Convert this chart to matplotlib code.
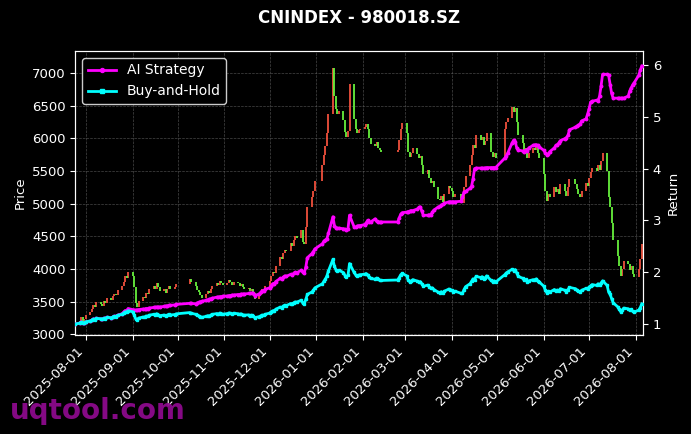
import matplotlib
matplotlib.use("Agg")
import matplotlib.pyplot as plt
import matplotlib.dates as mdates
import numpy as np
import pandas as pd

# ---------------- data ----------------
start_date = "2025-07-25"
end_date = "2026-08-05"
holidays = ["2025-10-01", "2025-10-02", "2025-10-03", "2025-10-06", "2025-10-07",
            "2025-10-08", "2026-01-01", "2026-01-02", "2026-02-16", "2026-02-17",
            "2026-02-18", "2026-02-19", "2026-02-20", "2026-02-23", "2026-04-06",
            "2026-05-01", "2026-05-04", "2026-05-05", "2026-06-19"]

close_jul25 = [3150, 3210, 3265, 3200, 3240]
close_aug25 = [3290, 3340, 3395, 3450, 3420, 3490, 3470, 3440, 3510, 3480, 3550,
               3530, 3590, 3620, 3600, 3680, 3740, 3810, 3890, 3860, 3960]
close_sep25 = [3900, 3720, 3480, 3420, 3510, 3580, 3560, 3640, 3620, 3690, 3740,
               3700, 3780, 3720, 3660, 3700, 3640, 3690, 3740, 3700, 3730, 3770]
close_oct25 = [3850, 3810, 3740, 3680, 3650, 3600, 3560, 3620, 3660, 3640, 3700,
               3740, 3790, 3760, 3820, 3780, 3750]
close_nov25 = [3790, 3830, 3800, 3760, 3810, 3780, 3740, 3770, 3720, 3690, 3710,
               3670, 3700, 3640, 3540, 3600, 3650, 3700, 3680, 3740]
close_dec25 = [3820, 3900, 3960, 3940, 4050, 4180, 4150, 4240, 4300, 4270, 4400,
               4360, 4450, 4500, 4480, 4600, 4420, 4380, 4650, 4950, 5100, 5200, 5350]
close_jan26 = [5600, 5750, 5880, 6080, 6380, 7080, 6650, 6450, 6380, 6420, 6280,
               6100, 6020, 6120, 6830, 6300, 6150, 6080, 6130, 6150]
close_feb26 = [6180, 6220, 6150, 6000, 5920, 5880, 5950, 5860, 5820, 5800, 5830,
               5980, 6150, 6230]
close_mar26 = [6080, 5800, 5720, 5780, 5850, 5760, 5700, 5730, 5600, 5450, 5520,
               5400, 5320, 5350, 5250, 5080, 5060, 5120, 5020, 5150, 5280, 5240]
close_apr26 = [5200, 5100, 5150, 5020, 5010, 5250, 5420, 5600, 5750, 5900, 5850,
               6050, 5980, 6030, 5900, 5960, 6080, 5800, 5720, 5780, 5700]
close_may26 = [6150, 6250, 6320, 6480, 6400, 6460, 6250, 6050, 5930, 5800, 5860,
               5700, 5780, 5850, 5820, 5900, 5780, 5700]
close_jun26 = [5450, 5200, 5050, 5150, 5100, 5250, 5180, 5220, 5150, 5300, 5200,
               5120, 5250, 5380, 5300, 5220, 5150, 5100, 5200, 5320, 5280]
close_jul26 = [5400, 5480, 5550, 5500, 5600, 5520, 5650, 5780, 5500, 5100, 4950,
               4700, 4450, 4200, 4050, 3900, 4000, 4120, 4080, 3980, 4050, 3920, 3880]
close_aug26 = [4000, 4150, 4380]

ai_jul25 = [1.00, 1.02, 1.04, 1.02, 1.03]
ai_aug25 = [1.04, 1.06, 1.08, 1.10, 1.09, 1.11, 1.10, 1.09, 1.11, 1.11, 1.13,
            1.12, 1.14, 1.15, 1.15, 1.17, 1.20, 1.23, 1.26, 1.25, 1.30]
ai_sep25 = [1.28, 1.27, 1.27, 1.27, 1.28, 1.29, 1.29, 1.30, 1.30, 1.31, 1.32,
            1.32, 1.33, 1.33, 1.33, 1.34, 1.35, 1.35, 1.36, 1.36, 1.37, 1.38]
ai_oct25 = [1.40, 1.40, 1.39, 1.41, 1.42, 1.43, 1.44, 1.46, 1.47, 1.48, 1.49,
            1.50, 1.52, 1.52, 1.53, 1.53, 1.54]
ai_nov25 = [1.54, 1.55, 1.55, 1.56, 1.56, 1.57, 1.57, 1.58, 1.58, 1.58, 1.59,
            1.59, 1.60, 1.59, 1.55, 1.58, 1.61, 1.64, 1.63, 1.67]
ai_dec25 = [1.70, 1.74, 1.78, 1.77, 1.82, 1.88, 1.87, 1.90, 1.93, 1.92, 1.96,
            1.95, 1.98, 2.00, 1.99, 2.04, 2.00, 1.99, 2.10, 2.28, 2.36, 2.40, 2.45]
ai_jan26 = [2.55, 2.60, 2.62, 2.65, 2.75, 3.07, 2.90, 2.86, 2.85, 2.85, 2.84,
            2.83, 2.82, 2.84, 3.10, 2.88, 2.87, 2.89, 2.90, 2.90]
ai_feb26 = [2.92, 2.95, 3.00, 2.97, 2.97, 3.03, 2.98, 2.97, 2.97, 2.97, 2.97,
            3.05, 3.12, 3.15]
ai_mar26 = [3.16, 3.17, 3.18, 3.19, 3.19, 3.22, 3.25, 3.26, 3.18, 3.10, 3.10,
            3.11, 3.10, 3.16, 3.20, 3.26, 3.27, 3.30, 3.31, 3.33, 3.36, 3.36]
ai_apr26 = [3.36, 3.36, 3.36, 3.37, 3.45, 3.55, 3.56, 3.62, 3.66, 3.80, 4.00,
            4.01, 4.01, 4.01, 4.01, 4.01, 4.02, 4.02, 4.02, 4.02, 4.02]
ai_may26 = [4.20, 4.24, 4.30, 4.50, 4.55, 4.52, 4.40, 4.36, 4.34, 4.33, 4.36,
            4.34, 4.40, 4.45, 4.46, 4.46, 4.45, 4.42]
ai_jun26 = [4.35, 4.30, 4.27, 4.29, 4.33, 4.40, 4.45, 4.46, 4.50, 4.54, 4.58,
            4.60, 4.64, 4.75, 4.80, 4.82, 4.84, 4.86, 4.92, 4.96, 5.05]
ai_jul26 = [5.15, 5.28, 5.30, 5.32, 5.31, 5.40, 5.60, 5.82, 5.82, 5.80, 5.62,
            5.45, 5.36, 5.36, 5.36, 5.36, 5.36, 5.36, 5.40, 5.50, 5.56, 5.62, 5.66]
ai_aug26 = [5.80, 5.90, 5.98]

title = "CNINDEX - 980018.SZ"
price_ticks = [3000, 3500, 4000, 4500, 5000, 5500, 6000, 6500, 7000]
return_ticks = [1, 2, 3, 4, 5, 6]
watermark = "uqtool.com"

# ---------------- assemble ----------------
close = np.array(close_jul25 + close_aug25 + close_sep25 + close_oct25 + close_nov25 +
                 close_dec25 + close_jan26 + close_feb26 + close_mar26 + close_apr26 +
                 close_may26 + close_jun26 + close_jul26 + close_aug26, dtype=float)
ai = np.array(ai_jul25 + ai_aug25 + ai_sep25 + ai_oct25 + ai_nov25 + ai_dec25 +
              ai_jan26 + ai_feb26 + ai_mar26 + ai_apr26 + ai_may26 + ai_jun26 +
              ai_jul26 + ai_aug26, dtype=float)
days = pd.bdate_range(start_date, end_date)
days = days[~days.isin(pd.to_datetime(holidays))]
n = min(len(days), len(close), len(ai))
days, close, ai = days[:n], close[:n], ai[:n]

open_ = np.concatenate([[close[0]], close[:-1]])
buy_hold = close / close[0]
up = close >= open_

BG = "black"
fig = plt.figure(figsize=(6.91, 4.34), dpi=100, facecolor=BG)
ax = fig.add_axes([0.109, 0.228, 0.8215, 0.6545], facecolor=BG)
x = mdates.date2num(days)

ax.vlines(x[up], open_[up], close[up], colors="#f0503c", linewidth=1.3, zorder=2)
ax.vlines(x[~up], open_[~up], close[~up], colors="#66f03c", linewidth=1.3, zorder=2)

ax.set_ylim(2990, 7340)
ax.set_yticks(price_ticks)
ax.set_xlim(x[0], x[-1] + 0.8)
ax.grid(True, linestyle="--", color="#666666", linewidth=0.5, alpha=0.7)
ax.set_axisbelow(True)
ax.set_ylabel("Price", color="white", fontsize=9.5)

ax.xaxis.set_major_locator(mdates.MonthLocator(bymonthday=1))
ax.xaxis.set_major_formatter(mdates.DateFormatter("%Y-%m-%d"))
for lbl in ax.get_xticklabels():
    lbl.set_rotation(45)
    lbl.set_ha("right")
ax.tick_params(axis="x", colors="white", labelsize=9.5)
ax.tick_params(axis="y", colors="white", labelsize=9.5)
for sp in ax.spines.values():
    sp.set_color("white")

ax2 = ax.twinx()
ax2.plot(x, ai, color="#ff00ff", linewidth=2, marker="o", markersize=1.8,
         label="AI Strategy", zorder=3)
ax2.plot(x, buy_hold, color="#00ffff", linewidth=2, marker="s", markersize=1.8,
         label="Buy-and-Hold", zorder=3)
ax2.set_ylim(0.788, 6.27)
ax2.set_yticks(return_ticks)
ax2.set_ylabel("Return", color="white", fontsize=9.5)
ax2.tick_params(axis="y", colors="white", labelsize=9.5)
for sp in ax2.spines.values():
    sp.set_color("white")

leg = ax2.legend(loc="upper left", fontsize=10, facecolor="black",
                 edgecolor="#cccccc", labelcolor="white", framealpha=1.0,
                 markerscale=1.6)

ax.set_title(title, color="white", fontsize=12, fontweight="bold", pad=20)
fig.text(0.014, 0.035, watermark, color="#8c0a8c", fontsize=20,
         fontweight="bold", alpha=0.95)

fig.savefig("out.png", dpi=100, facecolor=BG)
